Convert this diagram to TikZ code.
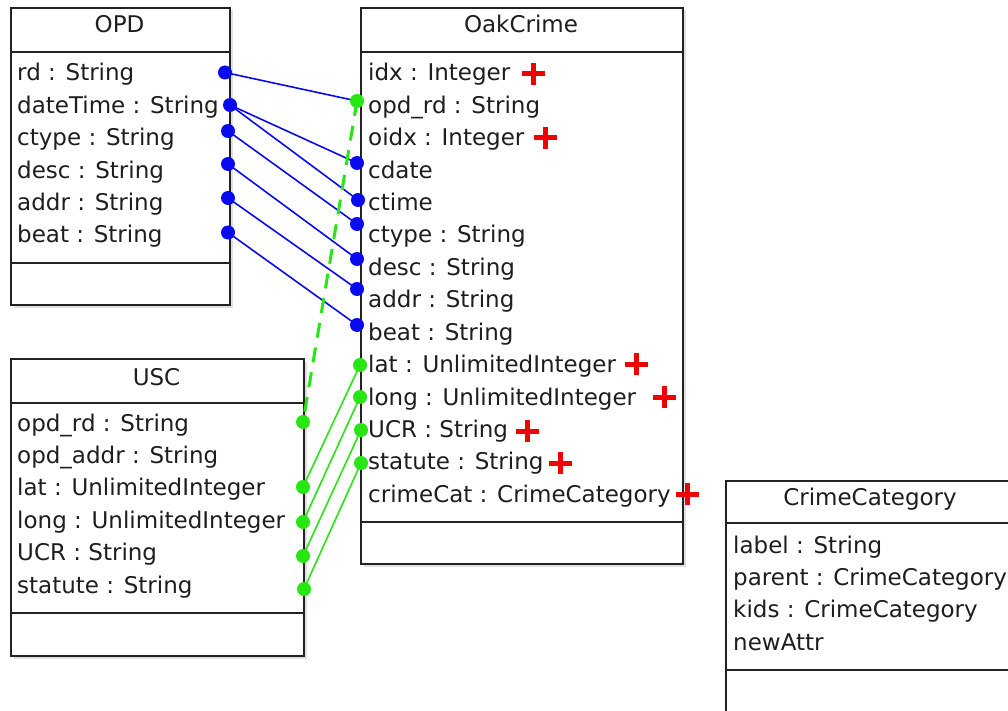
\documentclass[tikz,border=0pt]{standalone}
\usepackage{fontspec}
\setmainfont{DejaVu Sans}
\usetikzlibrary{shadows}
\definecolor{boxedge}  {RGB}{ 34, 34, 34}
\definecolor{txt}      {RGB}{ 30, 30, 30}
\definecolor{linkblue} {RGB}{ 10, 10,240}
\definecolor{linkgreen}{RGB}{ 40,230, 20}
\definecolor{keyred}   {RGB}{240,  0,  0}

\begin{document}
\begin{tikzpicture}[
  x=1pt, y=-1pt,
  font=\fontsize{23}{28}\selectfont,
  classbox/.style={
      rectangle, draw=boxedge, line width=2pt,
      fill=white, anchor=north west, inner sep=0pt,
      drop shadow={opacity=0.25, shadow xshift=2.5pt, shadow yshift=-2.5pt}
  },
  divider/.style={draw=boxedge, line width=1.4pt},
  title/.style={anchor=base, text=txt, inner sep=0pt},
  attr/.style={anchor=base west, text=txt, inner sep=0pt},
  bdot/.style={circle, fill=linkblue, inner sep=0pt, minimum size=14pt},
  gdot/.style={circle, fill=linkgreen, inner sep=0pt, minimum size=14pt},
  blink/.style={draw=linkblue, line width=1.6pt},
  glink/.style={draw=linkgreen, line width=1.6pt},
  gdash/.style={draw=linkgreen, line width=3pt, dash pattern=on 15pt off 10pt},
  pics/keyplus/.style={code={
      \draw[keyred, line width=5pt] (-11.5,0) -- (11.5,0) (0,-11) -- (0,11);}}
]
\clip (0,0) rectangle (1008,711);

% =========================================================
% CLASS BOXES
% =========================================================
\node[classbox, minimum width=219pt, minimum height=297pt] (opd)   at (10,7)    {};
\node[classbox, minimum width=322pt, minimum height=556pt] (oak)   at (360,7)   {};
\node[classbox, minimum width=293pt, minimum height=297pt] (usc)   at (10,358)  {};
\node[classbox, minimum width=290pt, minimum height=260pt] (ccat)  at (725,480) {};

% header / attribute dividers
\draw[divider] ([yshift=-45pt]opd.north west)  -- ([yshift=-45pt]opd.north east);
\draw[divider] ([yshift=-256pt]opd.north west) -- ([yshift=-256pt]opd.north east);
\draw[divider] ([yshift=-45pt]oak.north west)  -- ([yshift=-45pt]oak.north east);
\draw[divider] ([yshift=-515pt]oak.north west) -- ([yshift=-515pt]oak.north east);
\draw[divider] ([yshift=-45pt]usc.north west)  -- ([yshift=-45pt]usc.north east);
\draw[divider] ([yshift=-255pt]usc.north west) -- ([yshift=-255pt]usc.north east);
\draw[divider] ([yshift=-43pt]ccat.north west) -- ([yshift=-43pt]ccat.north east);
\draw[divider] ([yshift=-190pt]ccat.north west) -- ([yshift=-190pt]ccat.north east);

% titles
\node[title] (opdT)  at (119.5,33) {OPD};
\node[title] (oakT)  at (521,33)   {OakCrime};
\node[title] (uscT)  at (156.5,385) {USC};
\node[title] (ccatT) at (870,505)  {CrimeCategory};

% =========================================================
% ATTRIBUTES
% =========================================================
% OPD
\node[attr] (opdRd)    at (17,81)    {rd : String};
\node[attr] (opdDate)  at (17,113.4) {dateTime : String};
\node[attr] (opdCtype) at (17,145.8) {ctype : String};
\node[attr] (opdDesc)  at (17,178.2) {desc : String};
\node[attr] (opdAddr)  at (17,210.6) {addr : String};
\node[attr] (opdBeat)  at (17,243)   {beat : String};

% OakCrime
\node[attr] (oakIdx)     at (368,81)    {idx : Integer};
\node[attr] (oakRd)      at (368,113.4) {opd\_rd : String};
\node[attr] (oakOidx)    at (368,145.8) {oidx : Integer};
\node[attr] (oakCdate)   at (368,178.2) {cdate};
\node[attr] (oakCtime)   at (368,210.6) {ctime};
\node[attr] (oakCtype)   at (368,243)   {ctype : String};
\node[attr] (oakDesc)    at (368,275.4) {desc : String};
\node[attr] (oakAddr)    at (368,307.8) {addr : String};
\node[attr] (oakBeat)    at (368,340.2) {beat : String};
\node[attr] (oakLat)     at (368,372.6) {lat : UnlimitedInteger};
\node[attr] (oakLong)    at (368,405)   {long : UnlimitedInteger};
\node[attr] (oakUcr)     at (368,437.4) {UCR : String};
\node[attr] (oakStatute) at (368,469.8) {statute : String};
\node[attr] (oakCat)     at (368,502.2) {crimeCat : CrimeCategory};

% USC
\node[attr] (uscRd)      at (17,431)   {opd\_rd : String};
\node[attr] (uscAddr)    at (17,463.4) {opd\_addr : String};
\node[attr] (uscLat)     at (17,495.8) {lat : UnlimitedInteger};
\node[attr] (uscLong)    at (17,528.2) {long : UnlimitedInteger};
\node[attr] (uscUcr)     at (17,560.6) {UCR : String};
\node[attr] (uscStatute) at (17,593)   {statute : String};

% CrimeCategory
\node[attr] (ccLabel)  at (733,553)   {label : String};
\node[attr] (ccParent) at (733,585.4) {parent : CrimeCategory};
\node[attr] (ccKids)   at (733,617.8) {kids : CrimeCategory};
\node[attr] (ccNew)    at (733,650.2) {newAttr};

% added attributes (red marks)
\pic at (533,74)  {keyplus};
\pic at (545,138) {keyplus};
\pic at (636,364) {keyplus};
\pic at (664,397) {keyplus};
\pic at (527,431) {keyplus};
\pic at (560,463) {keyplus};
\pic at (687,494) {keyplus};

% =========================================================
% LINK END POINTS
% =========================================================
\coordinate (pRd)    at (225,72.5);
\coordinate (pDate)  at (230,105);
\coordinate (pCtype) at (228,131);
\coordinate (pDesc)  at (228,164);
\coordinate (pAddr)  at (228,198);
\coordinate (pBeat)  at (228,232.5);

\coordinate (kRd)      at (357,101);
\coordinate (kCdate)   at (357,163);
\coordinate (kCtime)   at (358,200);
\coordinate (kCtype)   at (357,224);
\coordinate (kDesc)    at (357,259);
\coordinate (kAddr)    at (357,289);
\coordinate (kBeat)    at (357,325);
\coordinate (kLat)     at (360,365);
\coordinate (kLong)    at (360,397);
\coordinate (kUcr)     at (361,430);
\coordinate (kStatute) at (361,463);

\coordinate (uRd)      at (303,422);
\coordinate (uLat)     at (303,487);
\coordinate (uLong)    at (303,522);
\coordinate (uUcr)     at (303,556);
\coordinate (uStatute) at (304,589);

% OPD -> OakCrime (blue)
\draw[blink] (pRd)    -- (kRd);
\draw[blink] (pDate)  -- (kCdate);
\draw[blink] (pDate)  -- (kCtime);
\draw[blink] (pCtype) -- (kCtype);
\draw[blink] (pDesc)  -- (kDesc);
\draw[blink] (pAddr)  -- (kAddr);
\draw[blink] (pBeat)  -- (kBeat);

% USC -> OakCrime (green)
\draw[gdash] (kRd)      -- (uRd);
\draw[glink] (uLat)     -- (kLat);
\draw[glink] (uLong)    -- (kLong);
\draw[glink] (uUcr)     -- (kUcr);
\draw[glink] (uStatute) -- (kStatute);

% dots on top
\foreach \p in {pRd,pDate,pCtype,pDesc,pAddr,pBeat,kCdate,kCtime,kCtype,kDesc,kAddr,kBeat}
  \node[bdot] at (\p) {};
\foreach \p in {kRd,kLat,kLong,kUcr,kStatute,uRd,uLat,uLong,uUcr,uStatute}
  \node[gdot] at (\p) {};

\end{tikzpicture}
\end{document}
